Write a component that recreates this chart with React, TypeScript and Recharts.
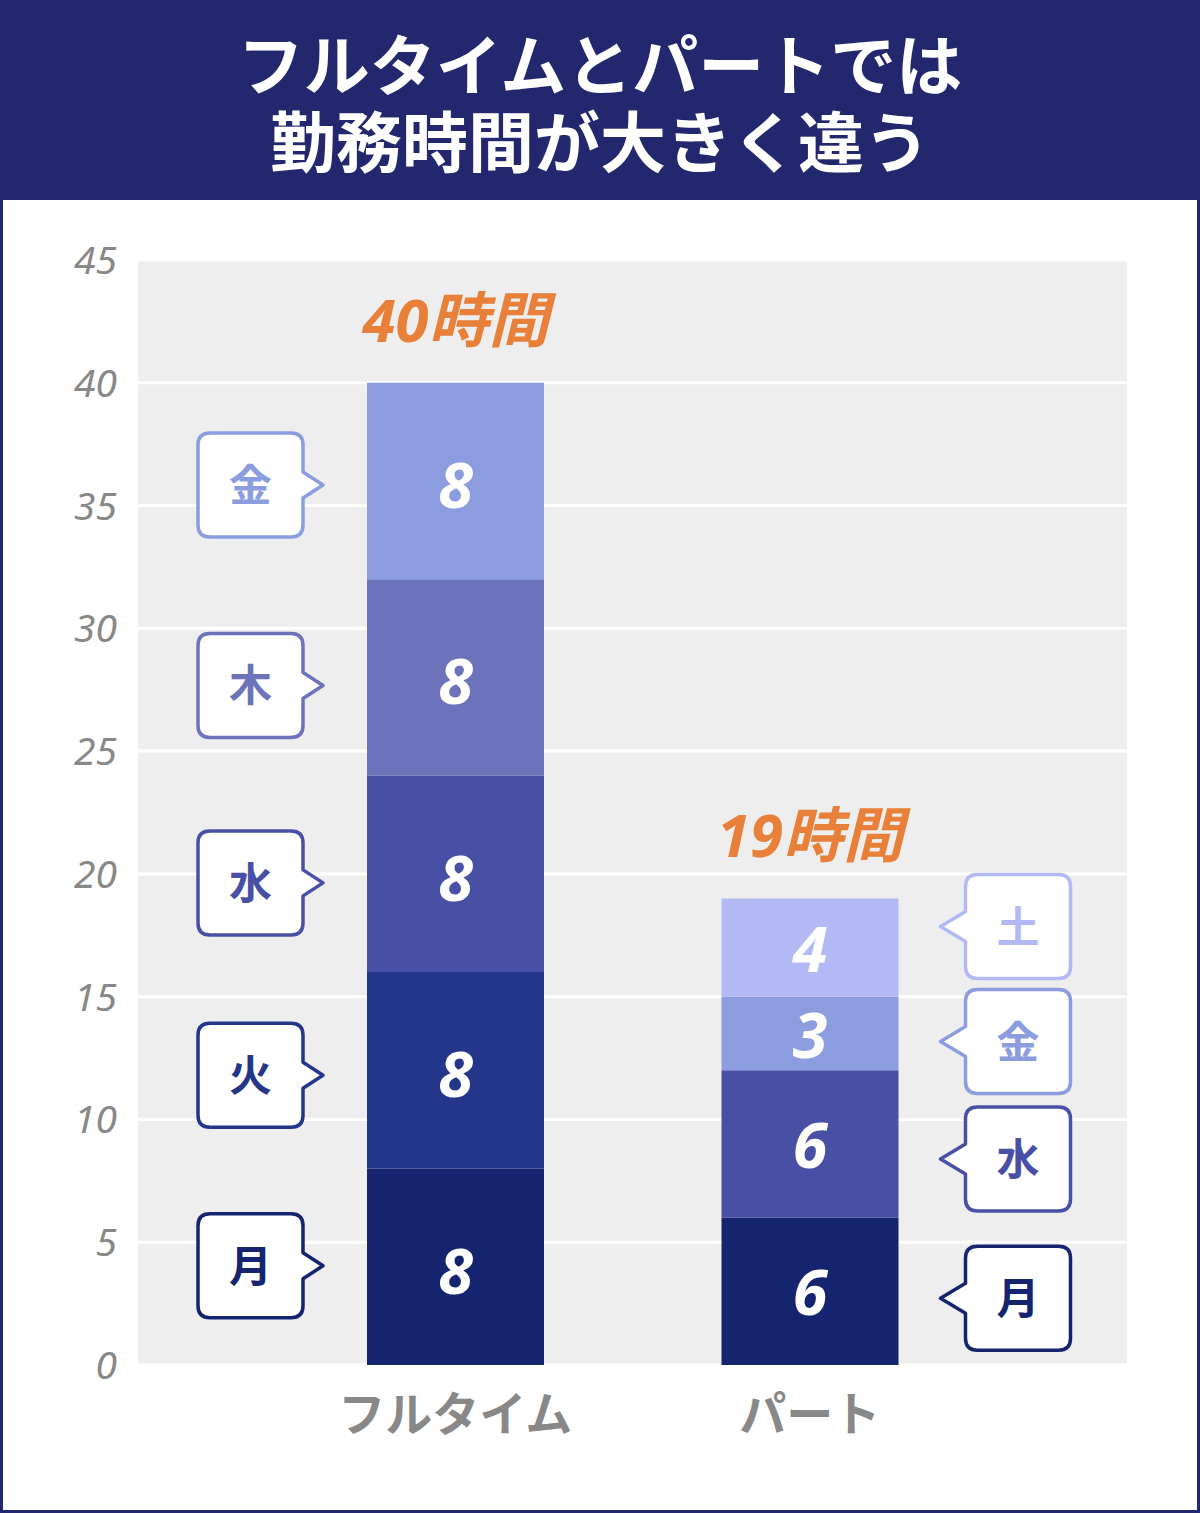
import React from 'react';
import { BarChart, Bar, XAxis, YAxis, CartesianGrid, LabelList } from 'recharts';

const categories = ['フルタイム', 'パート'];
const days = ['月', '火', '水', '木', '金', '土'];
const fullTimeHours = [8, 8, 8, 8, 8, 0];
const partTimeHours = [6, 0, 6, 0, 3, 4];
const yTicks = [0, 5, 10, 15, 20, 25, 30, 35, 40, 45];

const dayColors = ['#15246e', '#24368a', '#4850a6', '#6c73bb', '#8c9ddf', '#b3b9f5'];
const NAVY = '#22276e';
const ORANGE = '#e8803a';
const GRAY = '#888888';
const JP = "'Noto Sans CJK JP', 'Noto Sans', sans-serif";
const NUM = "'Noto Sans', 'Noto Sans CJK JP', sans-serif";

// vertical nudges for the callouts so they don't collide (px)
const calloutShift: Record<string, number>[] = [
    { 月: -1, 火: 5, 水: 9, 木: 8, 金: 4, 土: 0 },
    { 月: 7, 火: 0, 水: 15, 木: 0, 金: 8, 土: -21 },
];

const hoursByCategory = [fullTimeHours, partTimeHours];
const totals = hoursByCategory.map((arr) => arr.reduce((a, b) => a + b, 0));

const chartData = categories.map((name, ci) => {
    const row: Record<string, string | number> = { name };
    days.forEach((d, di) => {
        row[d] = hoursByCategory[ci][di];
    });
    return row;
});

const topDayIndex = hoursByCategory.map((arr) => {
    let last = 0;
    arr.forEach((v, i) => {
        if (v > 0) last = i;
    });
    return last;
});

const calloutPath = (L: number, R: number, cy: number, side: 'left' | 'right') => {
    const T = cy - 52;
    const B = cy + 52;
    const r = 12;
    if (side === 'left') {
        // pointer on the right edge
        return `M${L + r},${T} H${R - r} Q${R},${T} ${R},${T + r} V${cy - 13} L${R + 20},${cy} L${R},${cy + 13} V${B - r} Q${R},${B} ${R - r},${B} H${L + r} Q${L},${B} ${L},${B - r} V${T + r} Q${L},${T} ${L + r},${T} Z`;
    }
    // pointer on the left edge
    return `M${L + r},${T} H${R - r} Q${R},${T} ${R},${T + r} V${B - r} Q${R},${B} ${R - r},${B} H${L + r} Q${L},${B} ${L},${B - r} V${cy + 15} L${L - 25},${cy} L${L},${cy - 15} V${T + r} Q${L},${T} ${L + r},${T} Z`;
};

const SegmentLabel = (props: any) => {
    const { x, y, width, height, index, value, dayIdx } = props;
    let ci = categories.indexOf(String(value));
    if (ci < 0) ci = index;
    const day = days[dayIdx];
    const hours = hoursByCategory[ci][dayIdx];
    if (!hours) return null;
    const bx = Number(x);
    const by = Number(y);
    const bw = Number(width);
    const bh = Number(height);
    const cx = bx + bw / 2;
    const cy = by + bh / 2;
    const color = dayColors[dayIdx];
    const ccy = cy + calloutShift[ci][day];
    const isLeft = ci === 0;
    const L = isLeft ? bx - 169 : bx + bw + 67;
    const R = L + 105;
    return (
        <g>
            <text
                x={cx}
                y={cy + 23 + (isLeft ? 4 : 1)}
                textAnchor="middle"
                fill="#fff"
                fontSize={63}
                fontWeight={700}
                fontStyle="italic"
                fontFamily={NUM}
            >
                {hours}
            </text>
            <path d={calloutPath(L, R, ccy, isLeft ? 'left' : 'right')} fill="#fff" stroke={color} strokeWidth={3.5} strokeLinejoin="round" />
            <text x={(L + R) / 2} y={ccy + 16} textAnchor="middle" fill={color} fontSize={43} fontWeight={700} fontFamily={JP}>
                {day}
            </text>
            {dayIdx === topDayIndex[ci] && (
                <text
                    x={cx}
                    y={by - 41}
                    textAnchor="middle"
                    fill={ORANGE}
                    fontSize={60}
                    fontWeight={700}
                    fontStyle="italic"
                    fontFamily={NUM}
                >
                    {`${totals[ci]}時間`}
                </text>
            )}
        </g>
    );
};

const YTick = (props: any) => {
    const { y, payload } = props;
    return (
        <text x={117} y={Number(y) + 14} textAnchor="end" fill={GRAY} fontSize={39} fontStyle="italic" fontFamily={NUM}>
            {payload.value}
        </text>
    );
};

const XTick = (props: any) => {
    const { x, y, payload } = props;
    return (
        <text x={x} y={Number(y) + 58} textAnchor="middle" fill={GRAY} fontSize={47} fontWeight={700} fontFamily={JP}>
            {payload.value}
        </text>
    );
};

export default function App() {
    return (
        <div style={{ position: 'absolute', top: 0, left: 0, width: 1200, height: 1513, background: NAVY, fontFamily: JP }}>
            <div style={{ position: 'absolute', top: 200, left: 3, right: 3, bottom: 3, background: '#fff' }} />
            <div
                style={{
                    position: 'absolute',
                    top: 23,
                    left: 0,
                    width: 1200,
                    textAlign: 'center',
                    color: '#fff',
                    fontSize: 66,
                    fontWeight: 700,
                    lineHeight: '77px',
                }}
            >
                <div>フルタイムとパートでは</div>
                <div>勤務時間が大きく違う</div>
            </div>
            <div style={{ position: 'absolute', top: 0, left: 0 }}>
                <BarChart width={1200} height={1513} data={chartData} margin={{ top: 260, right: 73, bottom: 118, left: 0 }}>
                    <CartesianGrid vertical={false} fill="#eeeeee" stroke="#ffffff" strokeWidth={3} />
                    <XAxis
                        dataKey="name"
                        height={30}
                        axisLine={false}
                        tickLine={false}
                        padding={{ left: 140, right: 140 }}
                        tick={<XTick />}
                        interval={0}
                    />
                    <YAxis
                        width={138}
                        domain={[0, 45]}
                        ticks={yTicks}
                        axisLine={false}
                        tickLine={false}
                        tick={<YTick />}
                        interval={0}
                    />
                    {days.map((d, di) => (
                        <Bar key={d} dataKey={d} stackId="h" fill={dayColors[di]} barSize={177} isAnimationActive={false}>
                            <LabelList dataKey="name" content={(p: any) => <SegmentLabel {...p} dayIdx={di} />} />
                        </Bar>
                    ))}
                </BarChart>
            </div>
        </div>
    );
}
